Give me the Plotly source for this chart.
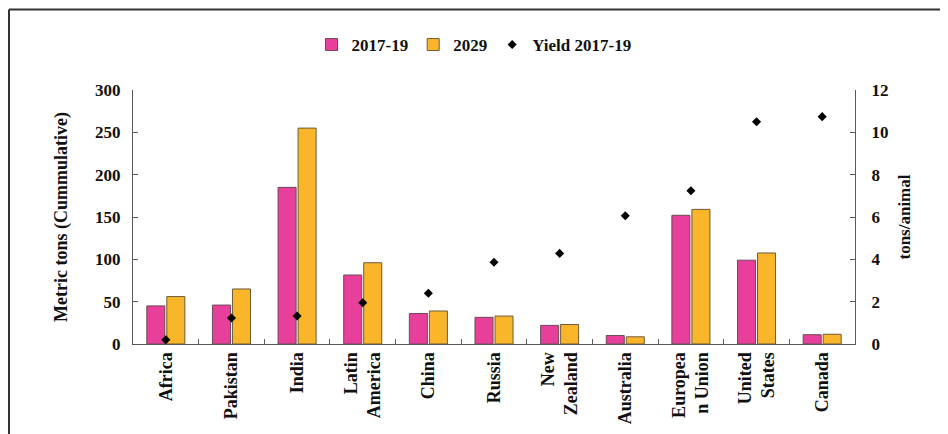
import plotly.graph_objects as go

categories = ["Africa", "Pakistan", "India", "Latin<br>America", "China", "Russia",
              "New<br>Zealand", "Australia", "Europea<br>n Union", "United<br>States", "Canada"]
prod_2017_19 = [45, 46, 185, 81.5, 36, 31.5, 22, 10, 152, 99, 11]
prod_2029 = [56, 65, 255, 96, 39, 33, 23, 8.5, 159, 107.5, 11.5]
yield_2017_19 = [0.2, 1.23, 1.32, 1.95, 2.4, 3.86, 4.28, 6.06, 7.24, 10.5, 10.74]

left_ticks = [0, 50, 100, 150, 200, 250, 300]
right_ticks = [0, 2, 4, 6, 8, 10, 12]

FONT = "Liberation Serif, Times New Roman, serif"
PINK = "#E8409A"
ORANGE = "#FAB62A"
AXIS = "#5a5a5a"

fig = go.Figure()
fig.add_trace(go.Bar(x=categories, y=prod_2017_19, name="2017-19",
                     marker=dict(color=PINK, line=dict(color="#6b4a55", width=1))))
fig.add_trace(go.Bar(x=categories, y=prod_2029, name="2029",
                     marker=dict(color=ORANGE, line=dict(color="#6b5a3a", width=1))))
fig.add_trace(go.Scatter(x=categories, y=yield_2017_19, name="Yield 2017-19", mode="markers",
                         yaxis="y2",
                         marker=dict(symbol="diamond", size=7, color="black")))

# page has an 8px body margin: figure coordinates = page coordinates - 8
OFF = 8
W, H = 940, 426
L, R, T, B = 133 - OFF, 93, 90 - OFF, 90
pw, ph = W - L - R, H - T - B

def px_x(x):  # page x -> paper
    return (x - OFF - L) / pw

def px_y(y):  # page y -> paper
    return (H - B - (y - OFF)) / ph

fig.update_layout(
    width=W, height=H,
    margin=dict(l=L, r=R, t=T, b=B, autoexpand=False),
    paper_bgcolor="white", plot_bgcolor="white",
    font=dict(family=FONT, size=17, color="#111111", weight="bold"),
    barmode="group", bargap=0.39, bargroupgap=0.1,
    showlegend=True,
    legend=dict(orientation="h", x=px_x(474), xanchor="center", y=px_y(45), yanchor="middle",
                font=dict(family=FONT, size=17, weight="bold"),
                itemwidth=30, tracegroupgap=0, bgcolor="rgba(0,0,0,0)"),
    xaxis=dict(type="category", tickangle=-90, showline=True, linecolor=AXIS, linewidth=1,
               ticks="inside", ticklen=5, tickcolor=AXIS, tickson="boundaries",
               tickfont=dict(family=FONT, size=18, weight="bold"), showgrid=False,
               range=[-0.5, len(categories) - 0.5]),
    yaxis=dict(range=[0, 300], tickvals=left_ticks, showline=True, linecolor=AXIS, linewidth=1,
               ticks="inside", ticklen=5, tickcolor=AXIS, showgrid=False, zeroline=False,
               tickfont=dict(family=FONT, size=17, weight="bold"), ticklabelstandoff=8,
               title=dict(text="Metric tons (Cummulative)", standoff=22,
                          font=dict(family=FONT, size=18, weight="bold"))),
    yaxis2=dict(range=[0, 12], tickvals=right_ticks, overlaying="y", side="right",
                showline=True, linecolor=AXIS, linewidth=1, ticks="inside", ticklen=5,
                tickcolor=AXIS, showgrid=False, zeroline=False,
                tickfont=dict(family=FONT, size=17, weight="bold"), ticklabelstandoff=12,
                title=dict(text="tons/animal", standoff=10,
                           font=dict(family=FONT, size=17, weight="bold"))),
)

# outer frame (top and left edges)
fig.add_shape(type="line", xref="paper", yref="paper", x0=px_x(9), x1=px_x(OFF + W), y0=px_y(9.5), y1=px_y(9.5),
              line=dict(color="#333333", width=2))
fig.add_shape(type="line", xref="paper", yref="paper", x0=px_x(9), x1=px_x(9), y0=px_y(9.5), y1=px_y(OFF + H),
              line=dict(color="#333333", width=2))

fig.write_html("out.html")
